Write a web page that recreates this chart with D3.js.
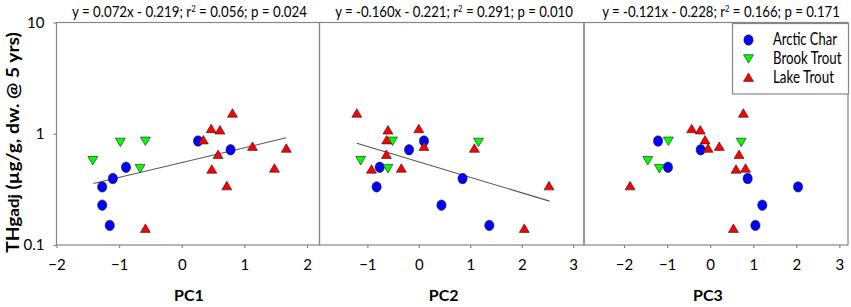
<!DOCTYPE html>
<html>
<head>
<meta charset="utf-8">
<script src="https://cdn.jsdelivr.net/npm/d3@7"></script>
<style>
  body { margin: 0; background: #fff; }
  svg text { font-family: Lato, "Open Sans", sans-serif; fill: #000; }
</style>
</head>
<body>
<div id="graphicContainer"></div>
<script>

// THg adj values (shared y across the three panels)
const charY  = [0.86, 0.718, 0.50, 0.396, 0.333, 0.228, 0.150]
const brookY = [0.575, 0.84, 0.86, 0.488]
const lakeY  = [1.53, 1.11, 1.08, 0.88, 0.77, 0.74, 0.65, 0.49, 0.48, 0.34, 0.141]

// PC scores per panel
const charPC1  = [0.26, 0.78, -0.89, -1.10, -1.27, -1.27, -1.15]
const charPC2  = [0.10, -0.19, -0.76, 0.85, -0.82, 0.44, 1.37]
const charPC3  = [-1.21, -0.22, -0.98, 0.87, 2.04, 1.21, 1.05]

const brookPC1 = [-1.42, -0.98, -0.58, -0.665]
const brookPC2 = [-1.13, 1.16, -0.51, -0.60]
const brookPC3 = [-1.45, 0.72, -0.97, -1.18]

const lakePC1  = [0.81, 0.47, 0.61, 0.345, 1.13, 1.67, 0.58, 1.48, 0.48, 0.72, -0.58]
const lakePC2  = [-1.205, 0.0, -0.60, -0.625, 0.10, 1.08, -0.63, -0.34, -0.92, 2.53, 2.05]
const lakePC3  = [0.77, -0.43, -0.23, -0.12, 0.21, -0.05, 0.67, 0.82, 0.60, -1.86, 0.54]

const panelNames = ["PC1", "PC2", "PC3"]
const equations = [
  ["y = 0.072x - 0.219; r", "2", " = 0.056; p = 0.024"],
  ["y = -0.160x - 0.221; r", "2", " = 0.291; p = 0.010"],
  ["y = -0.121x - 0.228; r", "2", " = 0.166; p = 0.171"]
]
const xDomains = [[-2, 2.2], [-1.93, 3.21], [-2.93, 3.2]]
const xTicks = [[-2, -1, 0, 1, 2], [-1, 0, 1, 2, 3], [-2, -1, 0, 1, 2, 3]]
// fitted line ends [x, y]
const trendLines = [
  [[-1.41, 0.357], [1.67, 0.92]],
  [[-1.205, 0.82], [2.54, 0.248]],
  null
]
const yTicks = [0.1, 1, 10]

const species = [
  { key: "Arctic Char", shape: "circle", fill: "#0000ff", ys: charY, xs: [charPC1, charPC2, charPC3] },
  { key: "Brook Trout", shape: "down", fill: "#00ff00", ys: brookY, xs: [brookPC1, brookPC2, brookPC3] },
  { key: "Lake Trout", shape: "up", fill: "#ff0000", ys: lakeY, xs: [lakePC1, lakePC2, lakePC3] }
]

const width = 851, height = 307
const margintop = 22.5, plotBottom = 245
const panelEdges = [56.5, 319.5, 584, 848]
const axisColor = "#868686"

// narrow the text horizontally to mimic the condensed original face
function squeeze(text, target) {
  const w = text.node().getComputedTextLength()
  const k = target / w
  const ax = +text.attr("x") || 0
  text.attr("transform", `translate(${ax},0) scale(${k},1) translate(${-ax},0)`)
}

const svg = d3.select("#graphicContainer").append("svg")
  .attr("width", width)
  .attr("height", height)

const y = d3.scaleLog()
  .domain([0.1, 10])
  .range([plotBottom, margintop])

function drawMarker(g, shape, fill) {
  if (shape == "circle") {
    g.append("ellipse").attr("rx", 4.6).attr("ry", 5.2)
      .attr("fill", fill).attr("stroke", "#1a1a1a").attr("stroke-width", 0.6)
  } else {
    const pts = shape == "up" ? "0,-4.5 5,4 -5,4" : "0,4.5 5,-4 -5,-4"
    g.append("polygon").attr("points", pts)
      .attr("fill", fill).attr("stroke", "#1a1a1a").attr("stroke-width", 0.6)
  }
}

const titleWidths = [235, 238, 238]
const titleCenters = [189.5, 454, 721]
const legendWidths = [64, 68.5, 61]

panelNames.forEach((name, p) => {

  const x0 = panelEdges[p], x1 = panelEdges[p + 1]

  const x = d3.scaleLinear()
    .domain(xDomains[p])
    .range([x0, x1])

  const g = svg.append("g")

  // frame
  g.append("rect")
    .attr("x", x0).attr("y", margintop)
    .attr("width", x1 - x0).attr("height", plotBottom - margintop)
    .attr("fill", "none").attr("stroke", axisColor).attr("stroke-width", 1.2)

  // x axis
  g.append("g")
    .attr("transform", `translate(0,${plotBottom})`)
    .call(d3.axisBottom(x).tickValues(xTicks[p]).tickSize(3).tickPadding(11).tickFormat(d3.format("d")))
    .call(a => a.select(".domain").remove())
    .call(a => a.selectAll("line").attr("stroke", axisColor).attr("stroke-width", 1.2))
    .call(a => a.selectAll("text").attr("font-size", 15).attr("fill", "#000")
      .attr("font-family", "Lato, 'Open Sans', sans-serif"))

  // trend line
  if (trendLines[p]) {
    g.append("line")
      .attr("x1", x(trendLines[p][0][0])).attr("y1", y(trendLines[p][0][1]))
      .attr("x2", x(trendLines[p][1][0])).attr("y2", y(trendLines[p][1][1]))
      .attr("stroke", "#555").attr("stroke-width", 1.1)
  }

  // points
  species.forEach(s => {
    s.ys.forEach((v, i) => {
      const m = g.append("g").attr("transform", `translate(${x(s.xs[p][i])},${y(v)})`)
      drawMarker(m, s.shape, s.fill)
    })
  })

  // equation
  const eq = g.append("text")
    .attr("x", titleCenters[p])
    .attr("y", 17.5)
    .attr("text-anchor", "middle")
    .attr("font-size", 15.5)
  eq.append("tspan").text(equations[p][0])
  eq.append("tspan").attr("dy", -5).attr("font-size", 9).text(equations[p][1])
  eq.append("tspan").attr("dy", 5).text(equations[p][2])
  squeeze(eq, titleWidths[p])

  // x title
  g.append("text")
    .attr("x", (x0 + x1) / 2 + (p == 0 ? 1 : -8))
    .attr("y", 301)
    .attr("text-anchor", "middle")
    .attr("font-size", 16)
    .attr("font-weight", "bold")
    .text(name)

  // legend in last panel
  if (p == 2) {
    const lg = g.append("g")
    lg.append("rect")
      .attr("x", 732.5).attr("y", 23.5).attr("width", 116).attr("height", 70.5)
      .attr("fill", "#fff").attr("stroke", axisColor).attr("stroke-width", 1.2)
    species.forEach((s, i) => {
      const m = lg.append("g").attr("transform", `translate(748.5,${40 + i * 18.7})`)
      drawMarker(m, s.shape, s.fill)
      const t = lg.append("text")
        .attr("x", 773).attr("y", 40 + i * 18.7 + 5.5)
        .attr("font-size", 16.5)
        .text(s.key)
      squeeze(t, legendWidths[i])
    })
  }
})

// y axis
svg.append("g")
  .attr("transform", `translate(${panelEdges[0]},0)`)
  .call(d3.axisLeft(y).tickValues(yTicks).tickSize(3).tickPadding(9).tickFormat(d => d))
  .call(a => a.select(".domain").remove())
  .call(a => a.selectAll("line").attr("stroke", axisColor).attr("stroke-width", 1.2))
  .call(a => a.selectAll("text").attr("font-size", 15).attr("fill", "#000")
    .attr("font-family", "Lato, 'Open Sans', sans-serif"))

// y title
const ytg = svg.append("g")
  .attr("transform", `translate(19,142.5) rotate(-90)`)
const yt = ytg.append("text")
  .attr("x", 0)
  .attr("text-anchor", "middle")
  .attr("font-size", 17)
  .attr("font-weight", "bold")
yt.append("tspan").text("THg")
yt.append("tspan").attr("font-size", 15).text("adj")
yt.append("tspan").text(" (µg/g, dw. @ 5 yrs)")
squeeze(yt, 221)

</script>
</body>
</html>
